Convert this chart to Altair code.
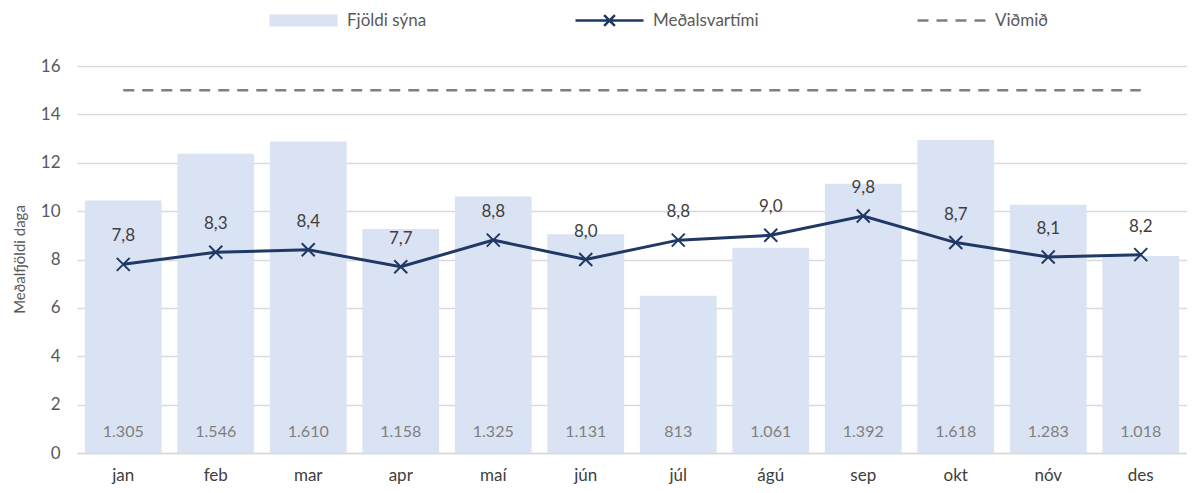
import altair as alt
import pandas as pd

months = ["jan", "feb", "mar", "apr", "maí", "jún", "júl", "ágú", "sep", "okt", "nóv", "des"]
samples = [1305, 1546, 1610, 1158, 1325, 1131, 813, 1061, 1392, 1618, 1283, 1018]
avg_wait = [7.8, 8.3, 8.4, 7.7, 8.8, 8.0, 8.8, 9.0, 9.8, 8.7, 8.1, 8.2]
benchmark = [15, 15, 15, 15, 15, 15, 15, 15, 15, 15, 15, 15]

df = pd.DataFrame({
    "month": months,
    "samples": samples,
    "wait": avg_wait,
    "bench": benchmark,
    "s1": "Fjöldi sýna",
    "s2": "Meðalsvartími",
    "s3": "Viðmið",
})
df["samples_lbl"] = [f"{v:,}".replace(",", ".") for v in samples]
df["wait_lbl"] = [f"{v:.1f}".replace(".", ",") for v in avg_wait]
df["zero"] = 0

FONT = "Lato"
RECT = "M-5.667,-1L5.667,-1L5.667,1L-5.667,1Z"
LINEX = "M-5.667,0L5.667,0M-0.9,-0.9L0.9,0.9M-0.9,0.9L0.9,-0.9"
DASH = "M-5.667,0L5.667,0"
XMARK = "M-1,-1L1,1M-1,1L1,-1"

LEG_Y = -54
leg_common = dict(orient="none", legendY=LEG_Y, title=None, padding=0,
                  symbolSize=144, labelOffset=35, labelFont=FONT,
                  labelFontSize=17, labelColor="#595959")

x_enc = alt.X("month:N", sort=months, title=None,
              scale=alt.Scale(paddingInner=0.17, paddingOuter=0.085),
              axis=alt.Axis(labelFont=FONT, labelFontSize=17, labelColor="#404040",
                            labelPadding=14, labelAngle=0, ticks=False,
                            domainColor="#d9d9d9", domainWidth=1.5, grid=False))

base = alt.Chart(df)

bar_y = alt.Scale(domain=[0, 2000])
bars = base.mark_bar(color="#dae3f3").encode(
    x=x_enc,
    y=alt.Y("samples:Q", scale=bar_y, axis=None),
    fill=alt.Fill("s1:N", scale=alt.Scale(domain=["Fjöldi sýna"], range=["#dae3f3"]),
                  legend=alt.Legend(legendX=218, symbolType=RECT, **leg_common)),
)
bar_text = base.mark_text(dy=-21, baseline="middle", fontSize=16, font=FONT,
                          color="#7f7f7f").encode(
    x=x_enc,
    y=alt.Y("zero:Q", scale=bar_y, axis=None),
    text="samples_lbl:N",
)
bar_layer = alt.layer(bars, bar_text)

left_y = alt.Scale(domain=[0, 16])
y_axis = alt.Axis(orient="left", values=list(range(0, 17, 2)), tickCount=9,
                  title="Meðalfjöldi daga", titleFont=FONT, titleFontSize=15,
                  titleFontWeight="normal", titleColor="#595959",
                  titleX=-58, titleY=193, titleAngle=270, titleAlign="center",
                  titleBaseline="middle",
                  labelFont=FONT, labelFontSize=17, labelColor="#595959",
                  labelPadding=17, ticks=False, domain=False,
                  grid=True, gridColor="#d9d9d9", gridWidth=1.5)

bench_line = base.mark_line(color="#7f7f7f", strokeWidth=2.5).encode(
    x=x_enc,
    y=alt.Y("bench:Q", scale=left_y, axis=y_axis),
    strokeDash=alt.StrokeDash("s3:N", scale=alt.Scale(domain=["Viðmið"], range=[[11, 8]]),
                              legend=alt.Legend(legendX=866, symbolType=DASH,
                                                symbolStrokeColor="#7f7f7f",
                                                symbolStrokeWidth=2.5, **leg_common)),
)
wait_line = base.mark_line(strokeWidth=3).encode(
    x=x_enc,
    y=alt.Y("wait:Q", scale=left_y),
    stroke=alt.Stroke("s2:N", scale=alt.Scale(domain=["Meðalsvartími"], range=["#203864"]),
                      legend=alt.Legend(legendX=524, symbolType=LINEX,
                                        symbolStrokeWidth=2.5, **leg_common)),
)
wait_pts = base.mark_point(shape=XMARK, size=169, filled=False, strokeWidth=2,
                           color="#203864", opacity=1).encode(
    x=x_enc,
    y=alt.Y("wait:Q", scale=left_y),
)
wait_text = base.mark_text(dy=-28, baseline="middle", fontSize=17, font=FONT,
                           color="#404040").encode(
    x=x_enc,
    y=alt.Y("wait:Q", scale=left_y),
    text="wait_lbl:N",
)
line_layer = alt.layer(bench_line, wait_line, wait_pts, wait_text)

chart = alt.layer(bar_layer, line_layer).resolve_scale(
    y="independent"
).properties(
    width=1110, height=387,
    autosize=alt.AutoSizeParams(type="none"),
    padding={"left": 69, "top": 58, "right": 0, "bottom": 32},
).configure(
    font=FONT
).configure_view(
    stroke=None
)

chart.save("out.html", embed_options={"renderer": "svg", "actions": False})
